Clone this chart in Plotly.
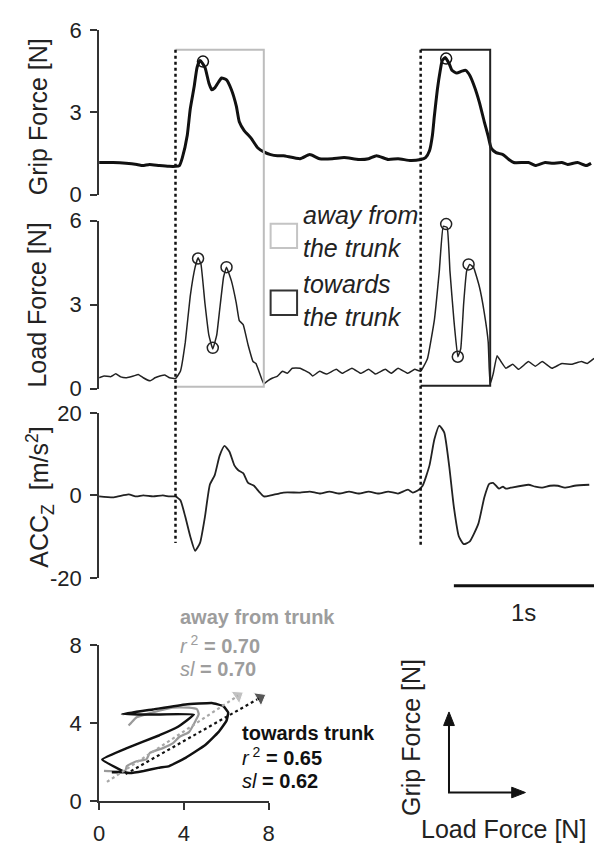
import plotly.graph_objects as go

# ---------------- data ----------------
# time in seconds for the three upper panels
grip_t = [0.00, 0.10, 0.27, 0.31, 0.36, 0.43, 0.50, 0.545, 0.573, 0.594, 0.629, 0.650, 0.678, 0.699, 0.720,
          0.755, 0.783, 0.804, 0.825, 0.853, 0.874, 0.909, 0.944, 0.979, 1.000, 1.035, 1.084, 1.133, 1.175,
          1.224, 1.273, 1.315, 1.434, 1.503, 1.573, 1.664, 1.748, 1.853, 1.923, 1.979, 2.063, 2.133, 2.224,
          2.294, 2.329, 2.357, 2.378, 2.392, 2.413, 2.434, 2.448, 2.469, 2.497, 2.517, 2.552, 2.587, 2.615,
          2.643, 2.678, 2.713, 2.748, 2.776, 2.797, 2.832, 2.881, 2.923, 2.958, 3.063, 3.112, 3.182, 3.238,
          3.301, 3.343, 3.413, 3.476, 3.510]
grip_f = [1.17, 1.17, 1.10, 1.06, 1.10, 1.06, 1.03, 1.03, 1.06, 1.35, 2.17, 3.12, 3.94, 4.65, 4.90,
          4.65, 4.08, 3.83, 3.90, 4.12, 4.26, 4.19, 3.83, 3.23, 2.66, 2.34, 2.06, 1.70, 1.56,
          1.46, 1.42, 1.42, 1.31, 1.46, 1.31, 1.31, 1.35, 1.28, 1.31, 1.42, 1.28, 1.31, 1.24,
          1.28, 1.35, 1.60, 2.17, 2.88, 3.83, 4.54, 4.90, 5.01, 4.79, 4.54, 4.44, 4.51, 4.54,
          4.37, 3.94, 3.37, 2.66, 2.13, 1.70, 1.53, 1.46, 1.28, 1.17, 1.17, 1.06, 1.17, 1.14,
          1.17, 1.10, 1.17, 1.06, 1.14]
grip_peak_t = [0.741, 2.476]
grip_peak_f = [4.86, 4.97]

load_t = [0.000, 0.035, 0.084, 0.119, 0.154, 0.196, 0.245, 0.280, 0.315, 0.364, 0.399, 0.434, 0.469, 0.503,
          0.545, 0.580, 0.615, 0.650, 0.685, 0.706, 0.727, 0.755, 0.783, 0.811, 0.839, 0.860, 0.888, 0.909,
          0.944, 0.979, 1.000, 1.028, 1.063, 1.098, 1.119, 1.140, 1.175, 1.203, 1.238, 1.273, 1.308, 1.343,
          1.378, 1.434, 1.503, 1.524, 1.573, 1.622, 1.692, 1.734, 1.804, 1.867, 1.923, 1.972, 2.042, 2.084,
          2.133, 2.203, 2.252, 2.294, 2.343, 2.392, 2.427, 2.455, 2.483, 2.503, 2.531, 2.559, 2.580, 2.601,
          2.622, 2.643, 2.671, 2.713, 2.748, 2.776, 2.783, 2.790, 2.811, 2.839, 2.867, 2.902, 2.951, 2.993,
          3.063, 3.112, 3.161, 3.231, 3.301, 3.371, 3.441, 3.483, 3.531]
load_f = [0.39, 0.45, 0.43, 0.53, 0.42, 0.39, 0.45, 0.51, 0.39, 0.28, 0.39, 0.45, 0.49, 0.39,
          0.36, 0.62, 1.66, 3.30, 4.34, 4.68, 4.44, 3.05, 1.91, 1.42, 1.91, 2.81, 3.99, 4.34,
          3.85, 3.05, 2.43, 2.29, 1.56, 0.97, 0.90, 0.62, 0.17, 0.28, 0.38, 0.45, 0.62, 0.55,
          0.73, 0.73, 0.55, 0.45, 0.62, 0.52, 0.69, 0.55, 0.73, 0.55, 0.69, 0.52, 0.69, 0.55,
          0.73, 0.55, 0.69, 0.62, 1.08, 2.46, 4.20, 5.80, 5.76, 4.20, 2.46, 1.14, 1.42, 3.05,
          4.20, 4.44, 4.34, 3.64, 2.71, 1.66, 0.73, 0.17, 0.52, 1.18, 0.97, 0.73, 0.87, 0.69,
          0.97, 0.80, 0.97, 0.73, 0.90, 0.87, 0.97, 0.90, 1.08]
load_mark_t = [0.706, 0.811, 0.909, 2.476, 2.559, 2.636]
load_mark_f = [4.65, 1.46, 4.34, 5.88, 1.14, 4.44]

acc_t = [0.000, 0.105, 0.210, 0.266, 0.315, 0.385, 0.455, 0.503, 0.545, 0.580, 0.615, 0.650, 0.685, 0.720,
         0.755, 0.790, 0.825, 0.860, 0.895, 0.930, 0.965, 0.993, 1.028, 1.063, 1.105, 1.140, 1.175, 1.224,
         1.315, 1.434, 1.503, 1.573, 1.643, 1.713, 1.783, 1.853, 1.923, 1.993, 2.063, 2.133, 2.203, 2.238,
         2.273, 2.308, 2.357, 2.392, 2.427, 2.462, 2.497, 2.531, 2.566, 2.601, 2.643, 2.706, 2.748, 2.783,
         2.811, 2.853, 2.881, 2.902, 2.937, 3.063, 3.112, 3.161, 3.217, 3.273, 3.322, 3.392, 3.497]
acc_v = [-0.24, -0.47, 0.24, -0.24, 0.00, -0.24, 0.00, -0.24, -0.24, -1.18, -5.18, -9.88, -13.4, -11.5,
         -5.18, 2.59, 4.94, 9.65, 12.0, 10.6, 7.29, 6.12, 5.41, 3.06, 2.35, 0.94, -0.24, 0.00,
         0.71, 0.71, 0.94, 0.47, 0.94, 0.47, 0.94, 0.47, 0.94, 0.47, 0.94, 0.47, 1.41, 0.71,
         1.18, 2.35, 7.29, 13.6, 16.9, 15.3, 7.29, -2.82, -9.88, -11.8, -11.2, -6.82, -0.47, 2.82,
         3.06, 1.65, 2.12, 1.65, 1.88, 2.59, 2.12, 1.88, 2.35, 2.35, 1.88, 2.35, 2.59]

# load force (x) vs grip force (y) loops
away_load = [0.23, 1.23, 1.31, 1.77, 2.23, 2.39, 3.01, 3.47, 3.78, 4.24, 4.55, 4.70, 4.62, 4.24, 3.47,
             2.54, 1.77, 1.50, 1.39]
away_grip = [1.56, 1.56, 1.80, 2.05, 2.14, 2.47, 2.72, 2.96, 3.29, 3.54, 4.12, 4.46, 4.71, 4.79, 4.79,
             4.55, 4.30, 4.00, 3.88]
towards_load = [0.60, 1.23, 1.46, 2.10, 2.85, 3.31, 4.08, 5.01, 5.63, 6.01, 6.09, 5.86, 5.32, 4.08, 2.54,
                1.08, 2.54, 4.47, 3.70, 2.85, 1.31, 0.15, 1.23]
towards_grip = [1.48, 1.48, 1.44, 1.55, 1.72, 1.80, 2.22, 2.88, 3.54, 4.12, 4.54, 4.87, 5.03, 4.95, 4.70,
                4.46, 4.44, 4.44, 3.80, 3.38, 2.72, 2.14, 1.48]
away_fit_load = [0.37, 6.55]
away_fit_grip = [0.99, 5.40]
towards_fit_load = [1.25, 7.60]
towards_fit_grip = [1.39, 5.30]

force_ticks = [0, 3, 6]
acc_ticks = [-20, 0, 20]
acc_tick_text = ["-20", "0", "20"]
loop_ticks = [0, 4, 8]

onset_t = [0.545, 2.294]      # movement onsets (dotted lines)
window_end_t = [1.175, 2.790]  # end of analysis windows
scale_bar_t = [2.531, 3.531]   # 1 s scale bar

# ---------------- layout helpers ----------------
W, H = 602, 856
FONT = "Liberation Sans, Arial, sans-serif"


def px(x):
    return x / W


def py(y):
    return 1 - y / H


fig = go.Figure()

line_black = "#111111"

fig.add_trace(go.Scatter(x=grip_t, y=grip_f, mode="lines", xaxis="x", yaxis="y",
                         line=dict(color=line_black, width=3, shape="spline", smoothing=0.5)))
fig.add_trace(go.Scatter(x=grip_peak_t, y=grip_peak_f, mode="markers", xaxis="x", yaxis="y", cliponaxis=False,
                         marker=dict(symbol="circle-open", size=11, color=line_black, line=dict(width=1.5))))

fig.add_trace(go.Scatter(x=load_t, y=load_f, mode="lines", xaxis="x2", yaxis="y2", cliponaxis=False,
                         line=dict(color="#222222", width=1.5, shape="spline", smoothing=0.3)))
fig.add_trace(go.Scatter(x=load_mark_t, y=load_mark_f, mode="markers", xaxis="x2", yaxis="y2", cliponaxis=False,
                         marker=dict(symbol="circle-open", size=11, color="#222222", line=dict(width=1.5))))

fig.add_trace(go.Scatter(x=acc_t, y=acc_v, mode="lines", xaxis="x3", yaxis="y3",
                         line=dict(color="#222222", width=1.8, shape="spline", smoothing=0.5)))

# loops
fig.add_trace(go.Scatter(x=away_load, y=away_grip, mode="lines", xaxis="x4", yaxis="y4",
                         line=dict(color="#9a9a9a", width=2.2, shape="spline", smoothing=0.4)))
fig.add_trace(go.Scatter(x=towards_load, y=towards_grip, mode="lines", xaxis="x4", yaxis="y4",
                         line=dict(color=line_black, width=2.5, shape="spline", smoothing=0.3)))
fig.add_trace(go.Scatter(x=away_fit_load, y=away_fit_grip, mode="lines+markers", xaxis="x4", yaxis="y4",
                         cliponaxis=False,
                         line=dict(color="#a8a8a8", width=2.2, dash="dot"),
                         marker=dict(symbol="triangle-up", size=[0, 13], angleref="previous",
                                     color="#a8a8a8")))
fig.add_trace(go.Scatter(x=towards_fit_load, y=towards_fit_grip, mode="lines+markers", xaxis="x4", yaxis="y4",
                         cliponaxis=False,
                         line=dict(color=line_black, width=2.2, dash="dot"),
                         marker=dict(symbol="triangle-up", size=[0, 13], angleref="previous",
                                     color=line_black)))

time_dom = [px(95), px(600)]
time_rng = [0, 3.531]
axis_col = "#333333"
tickfont = dict(family=FONT, size=22, color="#222222")

common_y = dict(showline=True, linecolor=axis_col, linewidth=2, ticks="outside", ticklen=7,
                tickwidth=2, tickcolor=axis_col, showgrid=False, zeroline=False,
                tickfont=tickfont, ticklabelstandoff=4)
common_tx = dict(domain=time_dom, range=time_rng, visible=False, showgrid=False, zeroline=False)

fig.update_layout(
    width=W, height=H, margin=dict(l=0, r=0, t=0, b=0),
    paper_bgcolor="white", plot_bgcolor="rgba(0,0,0,0)", showlegend=False,
    font=dict(family=FONT, color="#222222"),
    xaxis=dict(anchor="y", **common_tx),
    xaxis2=dict(anchor="y2", **common_tx),
    xaxis3=dict(anchor="y3", **common_tx),
    yaxis=dict(anchor="x", domain=[py(188), py(19)], range=[0, 6], tickvals=force_ticks, **common_y),
    yaxis2=dict(anchor="x2", domain=[py(388), py(215)], range=[0, 6], tickvals=force_ticks, **common_y),
    yaxis3=dict(anchor="x3", domain=[py(583), py(413)], range=[-20, 20], tickvals=acc_ticks,
                ticktext=acc_tick_text, **common_y),
    xaxis4=dict(anchor="y4", domain=[px(95), px(268)], range=[0, 8], tickvals=loop_ticks,
                showline=True, linecolor=axis_col, linewidth=2, ticks="outside", ticklen=7, tickwidth=2,
                tickcolor=axis_col, showgrid=False, zeroline=False, tickfont=tickfont, ticklabelstandoff=4),
    yaxis4=dict(anchor="x4", domain=[py(813), py(652)], range=[0, 8], tickvals=loop_ticks, **common_y),
)

shapes = []
# analysis windows (three-sided boxes; left side is the dotted onset line)
gray_box = "M {a},{top} L {b},{top} L {b},{bot} L {a},{bot}".format(
    a=onset_t[0], b=window_end_t[0], top=py(39), bot=py(386))
black_box = "M {a},{top} L {b},{top} L {b},{bot} L {a},{bot}".format(
    a=onset_t[1], b=window_end_t[1], top=py(39), bot=py(385))
shapes.append(dict(type="path", path=gray_box, xref="x", yref="paper", line=dict(color="#bdbdbd", width=2)))
shapes.append(dict(type="path", path=black_box, xref="x", yref="paper", line=dict(color="#222222", width=2)))
shapes.append(dict(type="line", xref="x", yref="paper", x0=onset_t[0], x1=onset_t[0], y0=py(39), y1=py(547),
                   line=dict(color="#111111", width=2.5, dash="dot")))
shapes.append(dict(type="line", xref="x", yref="paper", x0=onset_t[1], x1=onset_t[1], y0=py(39), y1=py(550),
                   line=dict(color="#111111", width=2.5, dash="dot")))
# scale bar
shapes.append(dict(type="line", xref="x3", yref="paper", x0=scale_bar_t[0], x1=scale_bar_t[1],
                   y0=py(591), y1=py(591), line=dict(color="#111111", width=3)))
# legend squares
shapes.append(dict(type="rect", xref="paper", yref="paper", x0=px(270), x1=px(297), y0=py(243), y1=py(218),
                   line=dict(color="#c4c4c4", width=2)))
shapes.append(dict(type="rect", xref="paper", yref="paper", x0=px(270), x1=px(297), y0=py(312), y1=py(287),
                   line=dict(color="#333333", width=2)))
# orientation arrows (lower right)
shapes.append(dict(type="path", xref="paper", yref="paper",
                   path="M {},{} L {},{} L {},{}".format(px(452), py(732), px(452), py(804), px(519), py(804)),
                   line=dict(color="#111111", width=2)))
shapes.append(dict(type="path", xref="paper", yref="paper",
                   path="M {},{} L {},{} L {},{} Z".format(px(452), py(721), px(446.5), py(735), px(457.5), py(735)),
                   line=dict(color="#111111", width=1), fillcolor="#111111"))
shapes.append(dict(type="path", xref="paper", yref="paper",
                   path="M {},{} L {},{} L {},{} Z".format(px(530), py(804), px(516), py(798.5), px(516), py(809.5)),
                   line=dict(color="#111111", width=1), fillcolor="#111111"))
fig.update_layout(shapes=shapes)

ann = []


def text(x, y, s, size, color="#222222", xanchor="left", angle=0):
    ann.append(dict(x=px(x), y=py(y), xref="paper", yref="paper", text=s, showarrow=False,
                    xanchor=xanchor, yanchor="middle", textangle=angle, align="left",
                    font=dict(family=FONT, size=size, color=color)))


text(32, 108, "Grip Force [N]", 25, xanchor="center", angle=-90)
text(32, 302, "Load Force [N]", 25, xanchor="center", angle=-90)
text(35, 500, "ACC<sub>Z</sub>\u00a0\u00a0[m/s<sup>2</sup>]", 25, xanchor="center", angle=-90)

text(301, 226, "<i>away from<br>the trunk</i>", 25)
text(301, 297, "<i>towards<br>the trunk</i>", 25)

text(528, 619, "1s", 24, xanchor="center")

gray_txt = "#9d9d9d"
text(176, 623, "<b>away from trunk</b>", 20, color=gray_txt)
text(176, 652, "<i>r</i><sup> 2</sup> <b>= 0.70</b>", 20, color=gray_txt)
text(176, 677, "<i>sl</i> <b>= 0.70</b>", 20, color=gray_txt)
text(239, 743, "<b>towards trunk</b>", 20, color="#111111")
text(239, 767, "<i>r</i><sup> 2</sup> <b>= 0.65</b>", 20, color="#111111")
text(239, 792, "<i>sl</i> <b>= 0.62</b>", 20, color="#111111")

text(413, 747, "Grip Force [N]", 25, xanchor="center", angle=-90)
text(508, 842, "Load Force [N]", 25, xanchor="center")

fig.update_layout(annotations=ann)

fig.write_html("out.html")
